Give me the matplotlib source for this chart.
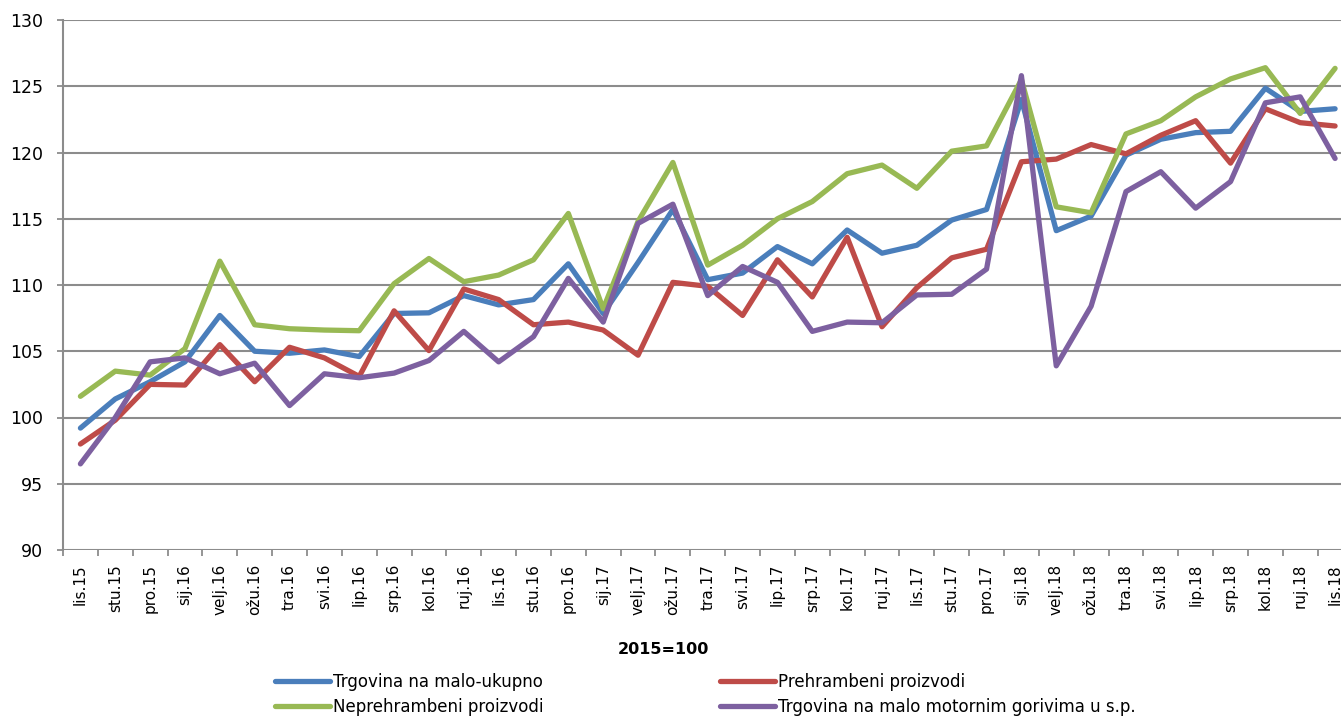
import matplotlib
matplotlib.use("Agg")
import matplotlib.pyplot as plt
from matplotlib.lines import Line2D

months = ["lis.15", "stu.15", "pro.15", "sij.16", "velj.16", "ožu.16", "tra.16", "svi.16",
          "lip.16", "srp.16", "kol.16", "ruj.16", "lis.16", "stu.16", "pro.16", "sij.17",
          "velj.17", "ožu.17", "tra.17", "svi.17", "lip.17", "srp.17", "kol.17", "ruj.17",
          "lis.17", "stu.17", "pro.17", "sij.18", "velj.18", "ožu.18", "tra.18", "svi.18",
          "lip.18", "srp.18", "kol.18", "ruj.18", "lis.18"]

ukupno = [99.2, 101.4, 102.7, 104.2, 107.7, 105.0, 104.85, 105.1, 104.6, 107.85, 107.9, 109.2,
          108.5, 108.9, 111.6, 107.85, 111.7, 115.7, 110.4, 110.9, 112.9, 111.6, 114.15, 112.4,
          113.0, 114.9, 115.7, 124.0, 114.1, 115.2, 119.8, 121.0, 121.5, 121.6, 124.85, 123.1, 123.3]
prehrambeni = [98.0, 99.8, 102.5, 102.45, 105.5, 102.7, 105.3, 104.5, 103.1, 108.05, 105.05, 109.7,
               108.9, 107.0, 107.2, 106.6, 104.7, 110.2, 109.9, 107.7, 111.9, 109.1, 113.6, 106.85,
               109.8, 112.05, 112.7, 119.3, 119.5, 120.6, 119.9, 121.3, 122.4, 119.2, 123.3, 122.25, 122.0]
neprehrambeni = [101.6, 103.5, 103.2, 105.2, 111.8, 107.0, 106.7, 106.6, 106.55, 110.1, 112.0, 110.25,
                 110.75, 111.9, 115.4, 108.2, 114.8, 119.25, 111.5, 113.0, 115.0, 116.3, 118.4, 119.05,
                 117.3, 120.1, 120.5, 125.5, 115.9, 115.45, 121.4, 122.4, 124.2, 125.55, 126.4, 122.95, 126.35]
gorivo = [96.5, 100.0, 104.2, 104.5, 103.3, 104.1, 100.9, 103.3, 103.0, 103.35, 104.3, 106.5,
          104.2, 106.1, 110.5, 107.2, 114.65, 116.1, 109.2, 111.4, 110.2, 106.5, 107.2, 107.15,
          109.25, 109.3, 111.2, 125.8, 103.9, 108.4, 117.05, 118.55, 115.8, 117.8, 123.75, 124.2, 119.55]

series_names = ["Trgovina na malo-ukupno", "Prehrambeni proizvodi",
                "Neprehrambeni proizvodi", "Trgovina na malo motornim gorivima u s.p."]
series_values = [ukupno, prehrambeni, neprehrambeni, gorivo]
colors = ["#4A7EBB", "#BE4B48", "#98B954", "#7D60A0"]
yticks = [90, 95, 100, 105, 110, 115, 120, 125, 130]
note = "2015=100"

W, H = 1341, 717
fig = plt.figure(figsize=(W / 100, H / 100), dpi=100)
ax = fig.add_axes([63 / W, (H - 550) / H, 1289.5 / W, 530 / H])

x = list(range(len(months)))
for vals, c, name in zip(series_values, colors, series_names):
    ax.plot(x, vals, color=c, lw=3.8, solid_joinstyle="round", solid_capstyle="round",
            label=name, clip_on=False)

grid_c = "#8C8C8C"
ax.set_ylim(90, 130)
ax.set_xlim(-0.5, len(months) - 0.5)
ax.set_yticks(yticks)
ax.set_yticklabels([str(v) for v in yticks], fontsize=12.5)
for v in yticks:
    ax.axhline(v, color=grid_c, lw=1.5, zorder=0)

ax.set_xticks(x)
ax.set_xticklabels(months, rotation=90, fontsize=11)
ax.set_xticks([i - 0.5 for i in range(len(months) + 1)], minor=True)
ax.tick_params(axis="x", which="major", length=0, pad=10)
ax.tick_params(axis="x", which="minor", length=4.3, width=1.3, color=grid_c, direction="out")
ax.tick_params(axis="y", length=4.3, width=1.3, color=grid_c, pad=10)

for s in ["top", "right", "bottom"]:
    ax.spines[s].set_visible(False)
ax.spines["left"].set_color(grid_c)
ax.spines["left"].set_linewidth(1.5)

fig.text(663 / W, 1 - 650 / H, note, fontsize=11.5, fontweight="bold", ha="center", va="center")

handles = [Line2D([], [], color=c, lw=3.8, solid_capstyle="round") for c in colors]
common = dict(frameon=False, fontsize=12, handlelength=3.3, handletextpad=0.2,
              borderpad=0, borderaxespad=0, labelspacing=0.42, loc="upper left")
leg1 = fig.legend([handles[0], handles[2]], [series_names[0], series_names[2]],
                  bbox_to_anchor=(275 / W, 1 - 673 / H), **common)
leg2 = fig.legend([handles[1], handles[3]], [series_names[1], series_names[3]],
                  bbox_to_anchor=(720 / W, 1 - 673 / H), **common)

fig.savefig("out.png", dpi=100)
